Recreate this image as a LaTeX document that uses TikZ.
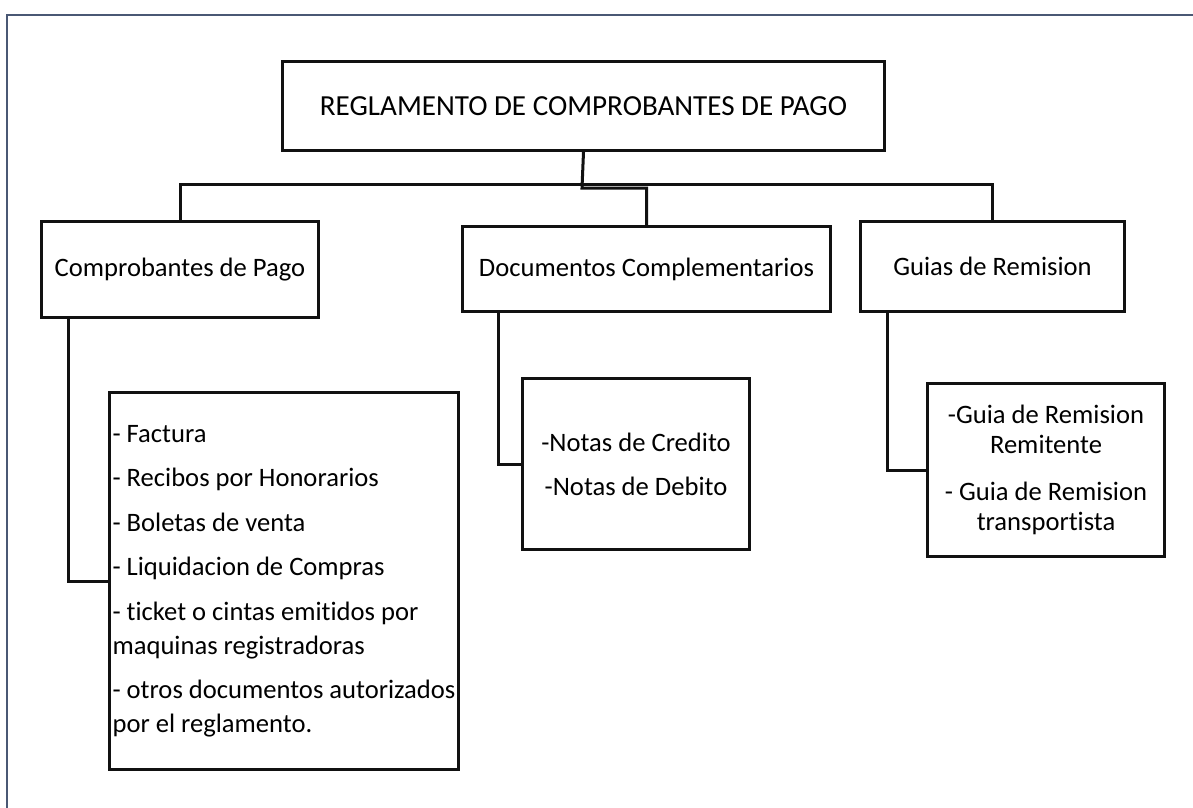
\documentclass[tikz,border=0pt]{standalone}
\usepackage{fontspec}
\setmainfont{Carlito}[Ligatures=NoCommon]
\definecolor{frame}{HTML}{4A5874}
\definecolor{ink}{HTML}{111111}
\tikzset{
  box/.style={draw=ink, line width=3pt, rectangle, inner sep=0pt, anchor=north west, align=center,
    font=\fontsize{26.6}{31.5}\selectfont},
  topbox/.style={box, font=\fontsize{29.1}{35}\selectfont},
  conn/.style={draw=ink, line width=3pt},
}
\begin{document}
\begin{tikzpicture}[x=1pt,y=-1pt]
\useasboundingbox (0,0) rectangle (1193,807);
\fill[white] (0,0) rectangle (1193,807);
\draw[frame, line width=2pt] (6.5,810) -- (6.5,15) -- (1196,15);

\node[topbox, minimum width=602pt, minimum height=89pt] (top) at (281,60) {REGLAMENTO DE COMPROBANTES DE PAGO};
\node[box, minimum width=277pt, minimum height=96pt] (c1) at (40,220) {Comprobantes de Pago};
\node[box, minimum width=368pt, minimum height=85pt] (c2) at (461,225) {Documentos Complementarios};
\node[box, minimum width=264pt, minimum height=90pt] (c3) at (859,220) {Guias de Remision};

\node[box, minimum width=349pt, minimum height=377pt, align=left,
  font=\fontsize{26.6}{34}\selectfont] (l1) at (108,391)
  {- Factura\\[10.5pt]
   - Recibos por Honorarios\\[10.5pt]
   - Boletas de venta\\[10.5pt]
   - Liquidacion de Compras\\[10.5pt]
   - ticket o cintas emitidos por\\
   maquinas registradoras\\[10.5pt]
   - otros documentos autorizados\\
   por el reglamento.};
\node[box, minimum width=227pt, minimum height=171pt] (l2) at (521,377)
  {-Notas de Credito\\[12.5pt] -Notas de Debito};
\node[box, minimum width=237pt, minimum height=173pt, font=\fontsize{26.6}{30.5}\selectfont] (l3) at (926,382)
  {-Guia de Remision\\ Remitente\\[16pt] - Guia de Remision\\ transportista};

\coordinate (bus) at (582,184);
\coordinate (step) at (582,188);
\draw[conn] (c1.north) |- (bus) -| (c3.north);
\draw[conn] (top.south) -- (step) -| (c2.north);
\draw[conn] ([xshift=28pt]c1.south west) |- (l1.west);
\draw[conn] ([xshift=37pt]c2.south west) |- (l2.west);
\draw[conn] ([xshift=28pt]c3.south west) |- (l3.west);
\end{tikzpicture}
\end{document}
